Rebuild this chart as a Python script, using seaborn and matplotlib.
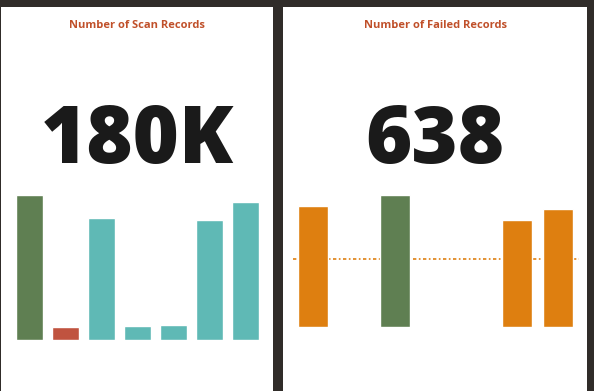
import matplotlib
matplotlib.use("Agg")
import matplotlib.pyplot as plt
import seaborn as sns
import numpy as np
import pandas as pd

# ---- data ----
slots = ["Mon", "Tue", "Wed", "Thu", "Fri", "Sat", "Sun"]
scan_records = [46000, 4100, 38700, 4400, 4800, 38100, 43800]
failed_records = [161, 0, 176, 0, 0, 143, 158]
scan_colors = ["#5f7f52", "#c0533f", "#5fb9b5", "#5fb9b5", "#5fb9b5", "#5fb9b5", "#5fb9b5"]
failed_colors = ["#de7f10", "#de7f10", "#5f7f52", "#de7f10", "#de7f10", "#de7f10", "#de7f10"]
titles = ["Number of Scan Records", "Number of Failed Records"]
kpi_labels = ["180K", "638"]

sns.set_theme(style="white")
plt.rcParams['font.family'] = ['Open Sans', 'DejaVu Sans']

W, H = 594, 391
BG = "#302c29"
fig = plt.figure(figsize=(W / 100, H / 100), dpi=100, facecolor=BG)

def px_axes(x0, y0, x1, y1):
    """x0,x1 from left, y0 top, y1 bottom, in pixels."""
    return fig.add_axes([x0 / W, 1 - y1 / H, (x1 - x0) / W, (y1 - y0) / H])

panels = [(1, 7, 273, 391), (283, 7, 587, 391)]
for (x0, y0, x1, y1) in panels:
    p = px_axes(x0, y0, x1, y1)
    p.set_facecolor("white")
    p.set_xticks([]); p.set_yticks([])
    for s in p.spines.values():
        s.set_visible(False)

# left bars
axL = px_axes(11.5, 195, 263.5, 340)
dfL = pd.DataFrame({"slot": slots, "value": scan_records})
sns.barplot(data=dfL, x="slot", y="value", hue="slot", palette=scan_colors,
            legend=False, width=0.75, saturation=1, ax=axL)
axL.set_xlim(-0.5, 6.5)
axL.set_ylim(0, max(scan_records))

# right bars
axR = px_axes(292.5, 195, 578.5, 327)
dfR = pd.DataFrame({"slot": slots, "value": failed_records})
sns.barplot(data=dfR, x="slot", y="value", hue="slot", palette=failed_colors,
            legend=False, width=0.74, saturation=1, ax=axR, zorder=2)
axR.axhline(np.mean(failed_records), color="#de7f10", lw=1.2,
            linestyle=(0, (2, 1.5, 1, 1.5)), zorder=1)
axR.set_xlim(-0.5, 6.5)
axR.set_ylim(0, max(failed_records))

for ax in (axL, axR):
    ax.patch.set_alpha(0)
    ax.set_xticks([]); ax.set_yticks([])
    ax.set_xlabel(""); ax.set_ylabel("")
    for s in ax.spines.values():
        s.set_visible(False)

centers = [137, 435]
for cx, t, k in zip(centers, titles, kpi_labels):
    fig.text(cx / W, 1 - 28 / H, t, ha="center", va="baseline", fontsize=8,
             fontweight="bold", color="#c0502a")
    fig.text(cx / W, 1 - 163 / H, k, ha="center", va="baseline", fontsize=57,
             fontweight="heavy", color="#1a1a1a")

fig.savefig("out.png", dpi=100, facecolor=BG)
